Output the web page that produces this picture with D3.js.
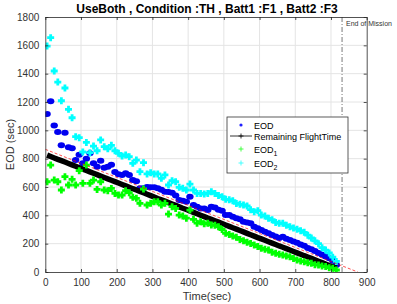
<!DOCTYPE html>
<html>
<head>
<meta charset="utf-8">
<script src="https://cdn.jsdelivr.net/npm/d3@7"></script>
<style>
  body { margin: 0; background: #fff; }
  svg { font-family: "Liberation Sans", Arial, sans-serif; }
</style>
</head>
<body>
<svg id="drawing_region"></svg>
<script>
// sample times (sec)
const times = [
    5, 15, 25, 35, 45, 55, 65, 75, 85, 95,
    105, 115, 125, 135, 145, 155, 165, 175, 185, 195,
    205, 215, 225, 235, 245, 255, 265, 275, 285, 295,
    305, 315, 325, 335, 345, 355, 365, 375, 385, 395,
    405, 415, 425, 435, 445, 455, 465, 475, 485, 495,
    505, 515, 525, 535, 545, 555, 565, 575, 585, 595,
    605, 615, 625, 635, 645, 655, 665, 675, 685, 695,
    705, 715, 725, 735, 745, 755, 765, 775, 785, 795,
    805, 815
];

const eod = [
    1115, 1205, 1035, 988, 894, 983, 880, 873, 790, 828,
    767, 800, 838, 767, 743, 786, 736, 743, 757, 706,
    690, 685, 697, 685, 649, 640, 591, 591, 600, 598,
    598, 591, 580, 567, 565, 560, 540, 508, 503, 496,
    532, 473, 461, 449, 449, 437, 461, 456, 440, 433,
    402, 402, 390, 379, 372, 355, 350, 344, 320, 309,
    297, 285, 273, 262, 250, 240, 249, 235, 226, 215,
    207, 195, 185, 170, 160, 148, 135, 122, 110, 97,
    80, 50
];

const remaining = [
    825, 815, 805, 795, 786, 776, 766, 756, 746, 736,
    726, 717, 707, 697, 687, 677, 667, 657, 648, 638,
    628, 618, 608, 598, 588, 579, 569, 559, 549, 539,
    529, 519, 510, 500, 490, 480, 470, 460, 450, 441,
    431, 421, 411, 401, 391, 381, 372, 362, 352, 342,
    332, 322, 312, 303, 293, 283, 273, 263, 253, 243,
    234, 224, 214, 204, 194, 184, 175, 165, 155, 145,
    135, 125, 115, 106, 96, 86, 76, 66, 56, 46,
    37, 27
];

const eod1 = [
    637, 755, 649, 637, 579, 673, 614, 654, 614, 715,
    626, 755, 626, 649, 583, 637, 579, 574, 590, 555,
    543, 543, 574, 560, 527, 520, 485, 586, 473, 485,
    496, 496, 473, 485, 409, 461, 449, 402, 395, 380,
    437, 372, 345, 355, 340, 344, 332, 330, 320, 300,
    273, 265, 254, 245, 230, 221, 210, 202, 191, 180,
    167, 160, 155, 140, 132, 125, 120, 113, 108, 95,
    85, 78, 73, 65, 61, 52, 49, 42, 38, 30,
    26, 14
];

const eod2 = [
    1595, 1654, 1419, 1341, 1209, 1299, 1148, 1089, 955, 948,
    847, 915, 842, 889, 856, 932, 885, 870, 894, 856,
    838, 819, 826, 814, 767, 790, 708, 772, 692, 701,
    692, 692, 661, 685, 614, 644, 637, 598, 591, 579,
    621, 579, 555, 555, 550, 555, 567, 555, 540, 532,
    513, 510, 503, 484, 478, 473, 466, 440, 426, 433,
    402, 395, 379, 369, 350, 344, 344, 330, 320, 310,
    302, 292, 280, 260, 240, 220, 200, 172, 155, 135,
    105, 75
];

// red dashed trend (not in legend)
const trendTimes = [0, 875];
const trendValues = [866, 0];

const endOfMission = 831;

const xTicks = [0, 100, 200, 300, 400, 500, 600, 700, 800, 900];
const yTicks = [0, 200, 400, 600, 800, 1000, 1200, 1400, 1600, 1800];

const W = 397, H = 304;
const box = { left: 45.3, right: 366.7, top: 17, bottom: 272 };

const svg = d3.select('#drawing_region')
    .attr('width', W)
    .attr('height', H);

const x = d3.scaleLinear().domain([0, 900]).range([box.left, box.right]);
const y = d3.scaleLinear().domain([0, 1800]).range([box.bottom, box.top]);

// grid
const grid = svg.append('g').attr('stroke', '#e4e4e4').attr('stroke-width', 1);
grid.selectAll('.gx').data(xTicks.slice(1, -1)).enter().append('line')
    .attr('x1', d => x(d)).attr('x2', d => x(d))
    .attr('y1', box.top).attr('y2', box.bottom);
grid.selectAll('.gy').data(yTicks.slice(1, -1)).enter().append('line')
    .attr('y1', d => y(d)).attr('y2', d => y(d))
    .attr('x1', box.left).attr('x2', box.right);

svg.append('defs').append('clipPath').attr('id', 'plotclip')
    .append('rect')
    .attr('x', box.left).attr('y', box.top)
    .attr('width', box.right - box.left).attr('height', box.bottom - box.top);

const plot = svg.append('g').attr('clip-path', 'url(#plotclip)');

const pts = vals => vals.map((v, i) => [times[i], v]);
const plus = s => `M${-s},0H${s}M0,${-s}V${s}`;

// EOD (blue blobs)
plot.append('g').selectAll('ellipse')
    .data(pts(eod)).enter().append('ellipse')
    .attr('cx', d => x(d[0])).attr('cy', d => y(d[1]))
    .attr('rx', 3.7).attr('ry', 3)
    .attr('fill', '#0000f0');

// Remaining FlightTime (thick black band)
const line = d3.line().x(d => x(d[0])).y(d => y(d[1]));
plot.append('path')
    .attr('d', line(pts(remaining)))
    .attr('fill', 'none').attr('stroke', '#000').attr('stroke-width', 5.5);

// EOD1 (green +)
plot.append('g').selectAll('path')
    .data(pts(eod1)).enter().append('path')
    .attr('transform', d => `translate(${x(d[0])},${y(d[1])})`)
    .attr('d', plus(3.5))
    .attr('stroke', '#00ff00').attr('stroke-width', 2.8);

// EOD2 (cyan +)
plot.append('g').selectAll('path')
    .data(pts(eod2)).enter().append('path')
    .attr('transform', d => `translate(${x(d[0])},${y(d[1])})`)
    .attr('d', plus(3.5))
    .attr('stroke', '#00ffff').attr('stroke-width', 2.8);

// red dashed trend
plot.append('path')
    .attr('d', line(trendTimes.map((t, i) => [t, trendValues[i]])))
    .attr('fill', 'none').attr('stroke', '#ff0000')
    .attr('stroke-width', 0.7).attr('stroke-dasharray', '3,2');

// end of mission marker
svg.append('line')
    .attr('x1', x(endOfMission)).attr('x2', x(endOfMission))
    .attr('y1', box.top).attr('y2', box.bottom)
    .attr('stroke', '#555').attr('stroke-width', 0.8)
    .attr('stroke-dasharray', '5,2,1,2');

// axes
const axisColor = '#262626';
const styleAxis = g => {
    g.select('.domain').attr('stroke', axisColor).attr('stroke-width', 0.8);
    g.selectAll('.tick line').attr('stroke', axisColor).attr('stroke-width', 0.8);
    g.selectAll('.tick text').attr('fill', '#333')
        .style('font-family', '"Liberation Sans", Arial, sans-serif').style('font-size', '10px');
};

svg.append('g').attr('transform', `translate(0,${box.bottom})`)
    .call(d3.axisBottom(x).tickValues(xTicks).tickFormat(d3.format('d'))
        .tickSize(-3).tickSizeOuter(0).tickPadding(7))
    .call(styleAxis);
svg.append('g').attr('transform', `translate(0,${box.top})`)
    .call(d3.axisTop(x).tickValues(xTicks).tickSize(-3).tickSizeOuter(0).tickFormat(''))
    .call(styleAxis);
svg.append('g').attr('transform', `translate(${box.left},0)`)
    .call(d3.axisLeft(y).tickValues(yTicks).tickFormat(d3.format('d'))
        .tickSize(-3).tickSizeOuter(0).tickPadding(6))
    .call(styleAxis);
svg.append('g').attr('transform', `translate(${box.right},0)`)
    .call(d3.axisRight(y).tickValues(yTicks).tickSize(-3).tickSizeOuter(0).tickFormat(''))
    .call(styleAxis);

svg.append('text')
    .attr('x', x(endOfMission) + 4).attr('y', 26)
    .attr('font-size', 7).attr('fill', '#333')
    .text('End of Mission');

// titles
svg.append('text')
    .attr('x', 207).attr('y', 13)
    .attr('text-anchor', 'middle')
    .attr('font-size', 12).attr('font-weight', 'bold').attr('fill', '#000')
    .text('UseBoth , Condition :TH , Batt1 :F1 , Batt2 :F3');

svg.append('text')
    .attr('x', 207).attr('y', 300)
    .attr('text-anchor', 'middle')
    .attr('font-size', 11).attr('fill', '#333')
    .text('Time(sec)');

svg.append('text')
    .attr('transform', `translate(14,${(box.top + box.bottom) / 2}) rotate(-90)`)
    .attr('text-anchor', 'middle')
    .attr('font-size', 11).attr('fill', '#333')
    .text('EOD (sec)');

// legend
const lg = svg.append('g').attr('transform', 'translate(227,117)');
lg.append('rect')
    .attr('width', 121).attr('height', 56)
    .attr('fill', '#fff').attr('stroke', '#333').attr('stroke-width', 0.8);

const legendRows = [
    { label: 'EOD', sub: null, y: 8 },
    { label: 'Remaining FlightTime', sub: null, y: 19 },
    { label: 'EOD', sub: '1', y: 32 },
    { label: 'EOD', sub: '2', y: 46 }
];
legendRows.forEach(r => {
    const t = lg.append('text')
        .attr('x', 27).attr('y', r.y + 3.5)
        .attr('font-size', 9).attr('fill', '#000')
        .text(r.label);
    if (r.sub) {
        t.append('tspan').attr('dy', 3.5).attr('font-size', 7).text(r.sub);
    }
});
lg.append('circle').attr('cx', 14).attr('cy', 8).attr('r', 1.6).attr('fill', '#2020ff');
lg.append('line').attr('x1', 3).attr('x2', 25).attr('y1', 19).attr('y2', 19)
    .attr('stroke', '#000').attr('stroke-width', 0.8);
lg.append('path').attr('transform', 'translate(14,19)').attr('d', plus(2.5))
    .attr('stroke', '#000').attr('stroke-width', 0.8);
lg.append('path').attr('transform', 'translate(14,32)').attr('d', plus(2.5))
    .attr('stroke', '#33ff33').attr('stroke-width', 0.9);
lg.append('path').attr('transform', 'translate(14,46)').attr('d', plus(2.5))
    .attr('stroke', '#33ffff').attr('stroke-width', 0.9);
</script>
</body>
</html>
